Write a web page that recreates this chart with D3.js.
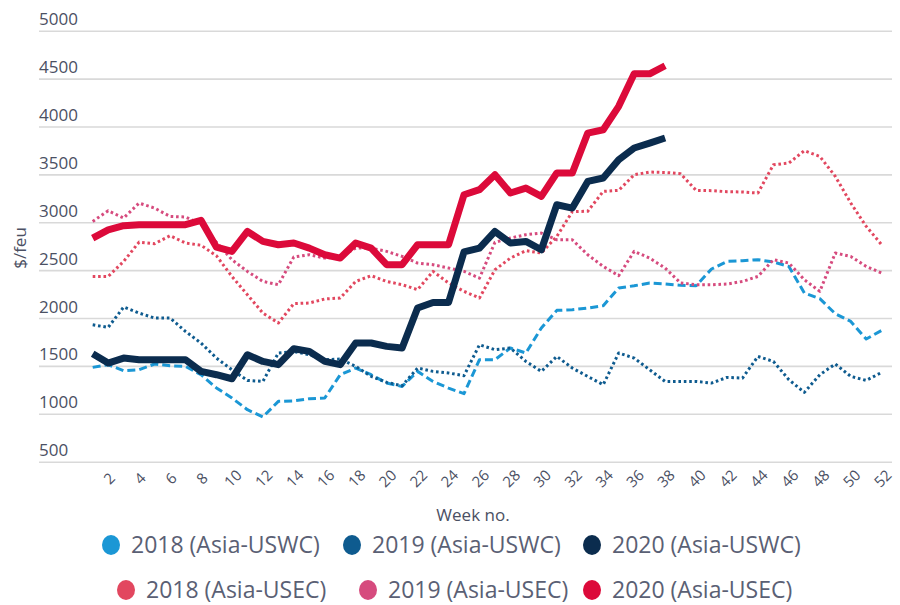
<!DOCTYPE html>
<html>
<head>
<meta charset="utf-8">
<script src="https://cdn.jsdelivr.net/npm/d3@7"></script>
<style>
  html, body { margin: 0; padding: 0; background: #ffffff; }
  svg { display: block; font-family: "Open Sans", sans-serif; }
</style>
</head>
<body>
<svg id="chart" width="900" height="605"></svg>
<script>
// ---- data ----
const weeks = d3.range(1, 53);
const weekTicks = d3.range(2, 53, 2);
const yTicks = [500, 1000, 1500, 2000, 2500, 3000, 3500, 4000, 4500, 5000];

const uswc2018 = [1485,1513,1450,1460,1520,1502,1495,1408,1270,1165,1043,967,1130,1135,1158,1165,1408,1478,1408,1321,1286,1443,1338,1269,1210,1565,1565,1687,1635,1896,2080,2087,2104,2129,2313,2337,2365,2355,2341,2337,2512,2591,2598,2609,2585,2539,2261,2202,2045,1965,1781,1871];
const uswc2019 = [1930,1902,2115,2052,2000,2000,1860,1739,1582,1460,1349,1338,1635,1650,1617,1565,1572,1495,1391,1328,1293,1478,1443,1426,1398,1721,1669,1687,1547,1443,1599,1478,1390,1304,1635,1582,1460,1338,1338,1338,1321,1380,1373,1599,1547,1356,1224,1408,1520,1391,1349,1432];
const uswc2020 = [1627,1530,1582,1565,1565,1565,1565,1443,1408,1366,1617,1547,1513,1680,1652,1547,1513,1739,1739,1704,1687,2104,2163,2163,2690,2731,2904,2783,2800,2713,3183,3148,3426,3462,3653,3775,3827,3880];
const usec2018 = [2434,2434,2591,2793,2776,2860,2783,2760,2650,2434,2243,2052,1948,2150,2157,2199,2209,2382,2442,2382,2348,2296,2487,2366,2278,2209,2504,2626,2703,2679,2852,3110,3115,3322,3333,3496,3524,3520,3507,3333,3330,3319,3316,3305,3600,3618,3747,3687,3479,3201,2957,2765];
const usec2019 = [3009,3120,3044,3200,3148,3061,3055,2980,2790,2609,2487,2382,2348,2637,2661,2626,2640,2730,2730,2696,2643,2574,2557,2522,2487,2417,2790,2835,2870,2887,2817,2817,2661,2539,2442,2696,2626,2522,2366,2348,2348,2355,2382,2434,2609,2574,2400,2278,2679,2643,2539,2470];
const usec2020 = [2835,2920,2964,2975,2975,2975,2975,3020,2740,2695,2904,2800,2765,2783,2730,2661,2626,2783,2730,2557,2557,2765,2765,2765,3287,3340,3496,3305,3357,3270,3514,3514,3931,3966,4210,4550,4550,4634];

const seriesNames = ["2018 (Asia-USWC)", "2019 (Asia-USWC)", "2020 (Asia-USWC)", "2018 (Asia-USEC)", "2019 (Asia-USEC)", "2020 (Asia-USEC)"];
const seriesValues = [uswc2018, uswc2019, uswc2020, usec2018, usec2019, usec2020];
const seriesColors = ["#1b97d5", "#0e5b8f", "#0b2c4e", "#e2475f", "#d64b7e", "#dc0a3a"];
const seriesStyle = ["dashed", "dotted", "thick", "dotted", "dotted", "thick"];
const drawOrder = [0, 1, 3, 4, 2, 5];

// ---- layout ----
const svg = d3.select("#chart");
const gridLeft = 39, gridRight = 892;
const x = d3.scaleLinear().domain([1, 52]).range([92.7, 881.7]);
const y = d3.scaleLinear().domain([500, 5000]).range([461.7, 30.7]);
const textColor = "#4b5063";

// gridlines + y labels
const yAxis = d3.axisLeft(y).tickValues(yTicks).tickSize(-(gridRight - gridLeft)).tickFormat(d3.format("d"));
const gy = svg.append("g").attr("transform", `translate(${gridLeft},0)`).call(yAxis);
gy.select(".domain").remove();
gy.selectAll(".tick line").attr("stroke", "#d9d9d9").attr("stroke-width", 1.6);
gy.selectAll(".tick text")
  .attr("x", 0).attr("dy", -6).attr("text-anchor", "start")
  .attr("fill", textColor).attr("font-size", 17).attr("font-family", "Open Sans, sans-serif");

// x axis labels
const xAxis = d3.axisBottom(x).tickValues(weekTicks).tickSize(0).tickFormat(d3.format("d"));
const gx = svg.append("g").attr("transform", "translate(0,478)").call(xAxis);
gx.select(".domain").remove();
gx.selectAll(".tick text")
  .attr("y", 0).attr("dy", 0)
  .attr("text-anchor", "middle").attr("dominant-baseline", "central")
  .attr("transform", "rotate(-45)")
  .attr("fill", textColor).attr("font-size", 15).attr("font-family", "Open Sans, sans-serif");

// axis titles
svg.append("text").attr("x", 473).attr("y", 521).attr("text-anchor", "middle")
  .attr("fill", textColor).attr("font-size", 17).text("Week no.");
svg.append("text").attr("transform", "translate(26,248) rotate(-90)").attr("text-anchor", "middle")
  .attr("fill", textColor).attr("font-size", 17).text("$/feu");

// lines
const line = d3.line().x((d, i) => x(weeks[i])).y(d => y(d));
drawOrder.forEach(k => {
  const p = svg.append("path").datum(seriesValues[k])
    .attr("d", line).attr("fill", "none").attr("stroke", seriesColors[k])
    .attr("stroke-linejoin", "round");
  if (seriesStyle[k] === "thick") {
    p.attr("stroke-width", 7).attr("stroke-linecap", "butt");
  } else if (seriesStyle[k] === "dashed") {
    p.attr("stroke-width", 3).attr("stroke-dasharray", "8,4");
  } else {
    p.attr("stroke-width", 3).attr("stroke-dasharray", "2.6,2.8");
  }
});

// legend
const legendPos = [[111, 545], [352, 545], [592, 545], [126, 590], [368, 590], [592, 590]];
const lg = svg.append("g");
seriesNames.forEach((name, k) => {
  const [lx, ly] = legendPos[k];
  lg.append("ellipse").attr("cx", lx).attr("cy", ly).attr("rx", 9).attr("ry", 10).attr("fill", seriesColors[k]);
  lg.append("text").attr("x", lx + 20).attr("y", ly).attr("dy", "0.35em")
    .attr("fill", "#5a6074").attr("font-size", 23).text(name);
});
</script>
</body>
</html>
